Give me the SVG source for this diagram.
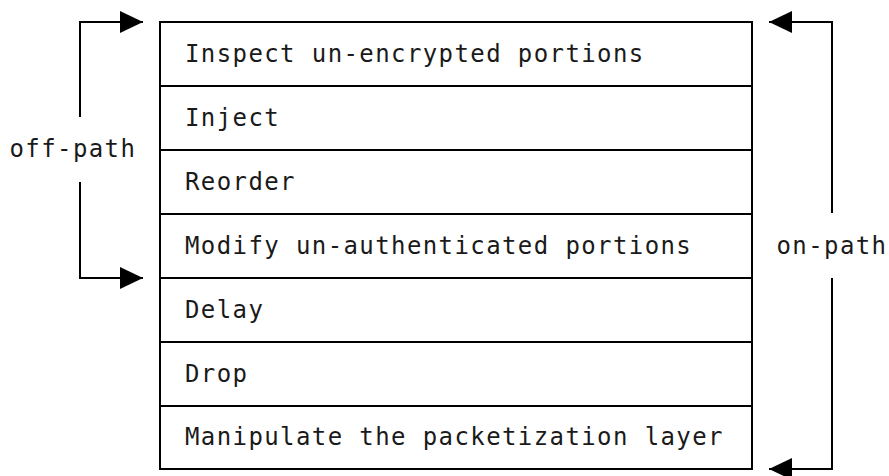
<svg xmlns="http://www.w3.org/2000/svg" width="889" height="476" viewBox="0 0 889 476">
  <style>
    .cell { fill: #ffffff; stroke: #000000; stroke-width: 2; }
    .conn { fill: none; stroke: #000000; stroke-width: 2; }
    .t { font-family: "DejaVu Sans Mono", "Liberation Mono", monospace; font-size: 24px; letter-spacing: 1.4px; fill: #1a1a1a; }
  </style>
  <defs>
    <marker id="arrow" markerUnits="userSpaceOnUse" markerWidth="23" markerHeight="22" viewBox="0 0 23 22" refX="23" refY="11" orient="auto">
      <path d="M0,0 L23,11 L0,22 z" fill="#000000"/>
    </marker>
  </defs>
  <rect width="889" height="476" fill="#ffffff"/>
  <g id="row1"><rect class="cell" x="160" y="22" width="592" height="64"/><text class="t" x="185" y="62">Inspect un-encrypted portions</text></g>
  <g id="row2"><rect class="cell" x="160" y="86" width="592" height="64"/><text class="t" x="185" y="126">Inject</text></g>
  <g id="row3"><rect class="cell" x="160" y="150" width="592" height="64"/><text class="t" x="185" y="190">Reorder</text></g>
  <g id="row4"><rect class="cell" x="160" y="214" width="592" height="64"/><text class="t" x="185" y="254">Modify un-authenticated portions</text></g>
  <g id="row5"><rect class="cell" x="160" y="278" width="592" height="64"/><text class="t" x="185" y="318">Delay</text></g>
  <g id="row6"><rect class="cell" x="160" y="342" width="592" height="64"/><text class="t" x="185" y="382">Drop</text></g>
  <g id="row7"><rect class="cell" x="160" y="406" width="592" height="63"/><text class="t" x="185" y="445">Manipulate the packetization layer</text></g>
  <g id="connectors">
    <path class="conn" d="M80,117 L80,22 L143,22" marker-end="url(#arrow)"/>
    <path class="conn" d="M80,182 L80,278 L143,278" marker-end="url(#arrow)"/>
    <path class="conn" d="M832,213 L832,22 L769,22" marker-end="url(#arrow)"/>
    <path class="conn" d="M832,278 L832,469 L769,469" marker-end="url(#arrow)"/>
  </g>
  <g id="label-off-path"><text class="t" x="9.5" y="157">off-path</text></g>
  <g id="label-on-path"><text class="t" x="776.5" y="254">on-path</text></g>
</svg>
